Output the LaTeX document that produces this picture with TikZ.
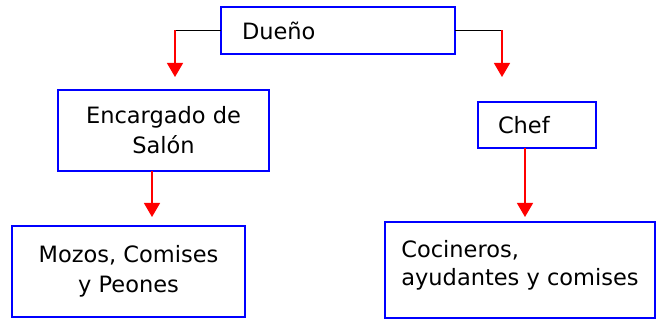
\documentclass[tikz,border=0pt]{standalone}
\usepackage{fontspec}
\setmainfont{DejaVu Sans}
\usetikzlibrary{positioning}
\usetikzlibrary{arrows.meta}

\begin{document}
\begin{tikzpicture}[x=1pt, y=1pt,
	font=\fontsize{22.5}{30}\selectfont,
	box/.style={draw=blue, line width=2pt, inner sep=0pt, outer sep=0pt},
	link/.style={black, line width=1.3pt},
	down/.style={red, line width=1.3pt, -{Triangle[width=16pt, length=14pt]}}]
	\useasboundingbox (0,0) rectangle (656,-320);

	\node [box, inner xsep=21pt, text width=192pt, minimum height=47pt, align=left] (duenio) at (338,-30.5) {Dueño};
	\node [box, minimum width=211pt, minimum height=81pt, align=center, below=36pt of duenio, xshift=-174.5pt] (encargado) {Encargado de\\Salón};
	\node [box, inner xsep=20pt, text width=78pt, minimum height=46pt, align=left, below=48pt of duenio, xshift=199pt] (chef) {Chef};
	\node [box, minimum width=233pt, minimum height=91pt, align=center, below=55pt of encargado, xshift=-35pt] (mozos) {Mozos, Comises\\y Peones};
	\node [box, minimum width=270pt, minimum height=96pt, align=left, below=74pt of chef, xshift=-17pt] (cocineros) {Cocineros,\\[-2pt]ayudantes y comises\\[-16pt]};

	\coordinate [left=46pt of duenio.west] (lcorner);
	\coordinate [below=46.5pt of lcorner] (lend);
	\draw [link] (duenio.west) -- (lcorner);
	\draw [down] (lcorner) -- (lend);
	\coordinate [right=47pt of duenio.east] (rcorner);
	\coordinate [below=46.5pt of rcorner] (rend);
	\draw [link] (duenio.east) -- (rcorner);
	\draw [down] (rcorner) -- (rend);

	\coordinate [above=9pt of mozos.north, xshift=23.5pt] (mend);
	\draw [down] (encargado.south -| mend) -- (mend);
	\coordinate [above=5pt of cocineros.north, xshift=5pt] (cend);
	\draw [down] (chef.south -| cend) -- (cend);
\end{tikzpicture}
\end{document}
